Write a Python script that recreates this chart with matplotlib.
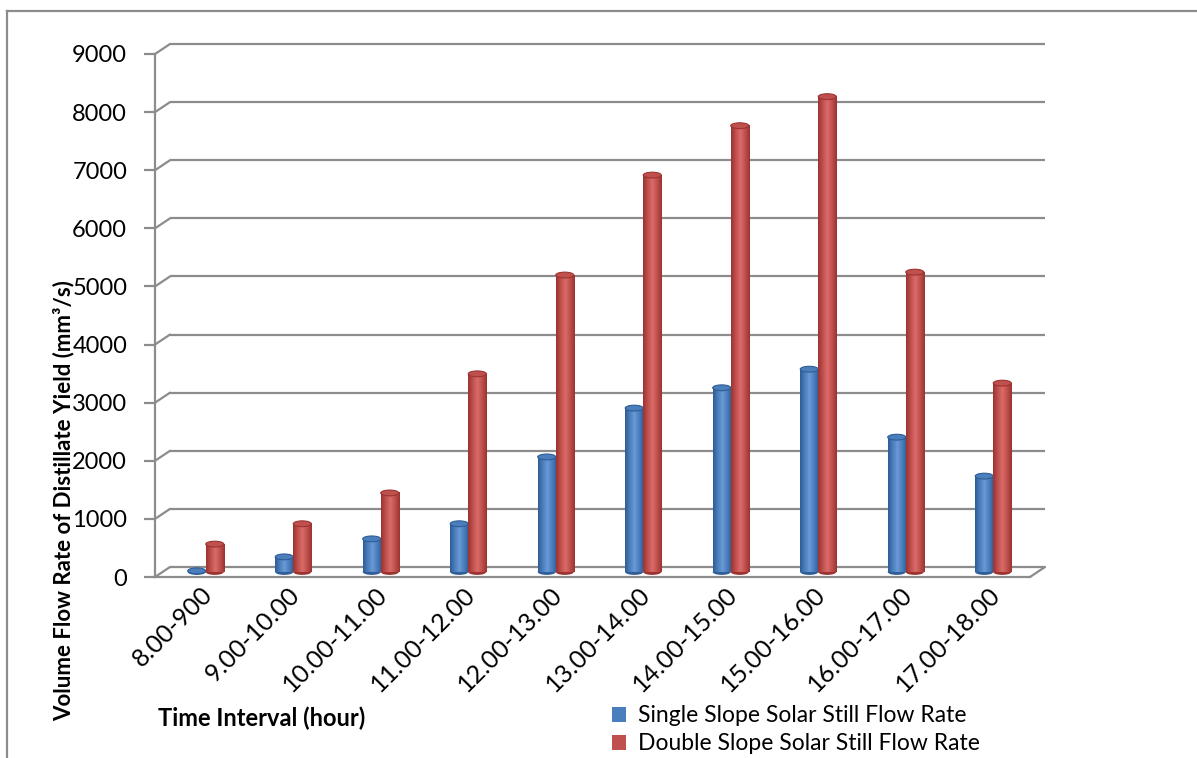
import matplotlib
matplotlib.use("Agg")
import matplotlib.pyplot as plt
import matplotlib.transforms as mtransforms
from matplotlib.patches import Ellipse, Patch
from matplotlib.lines import Line2D
import numpy as np

# Data
intervals = ["8.00-900", "9.00-10.00", "10.00-11.00", "11.00-12.00", "12.00-13.00",
             "13.00-14.00", "14.00-15.00", "15.00-16.00", "16.00-17.00", "17.00-18.00"]
single_slope = [20, 260, 570, 830, 1980, 2820, 3170, 3490, 2320, 1650]
double_slope = [480, 830, 1360, 3410, 5110, 6830, 7680, 8180, 5160, 3250]
series_names = ["Single Slope Solar Still Flow Rate", "Double Slope Solar Still Flow Rate"]
y_ticks = list(range(0, 10000, 1000))

plt.rcParams['font.family'] = ['Lato', 'DejaVu Sans']
GRAY = "#8c8c8c"
W, H = 1197, 758

fig = plt.figure(figsize=(W / 100, H / 100), dpi=100)
ax = fig.add_axes([155 / W, 1 - 577 / H, 875 / W, 523 / H])
ax.set_xlim(0, len(intervals))
ax.set_ylim(0, 9000)

# fake 3D: back wall and mid-depth offsets
back = ax.transData + mtransforms.ScaledTranslation(0.15, 0.10, fig.dpi_scale_trans)
mid = ax.transData + mtransforms.ScaledTranslation(0.07, 0.05, fig.dpi_scale_trans)

for s in ["top", "right"]:
    ax.spines[s].set_visible(False)
for s in ["left", "bottom"]:
    ax.spines[s].set_color(GRAY)
    ax.spines[s].set_linewidth(1.6)

# back wall gridlines + connectors
ax.hlines(y_ticks, 0, len(intervals), colors=GRAY, lw=1.6, transform=back, clip_on=False, zorder=1)
for v in y_ticks:
    ax.annotate("", xy=(0, v), xycoords=back, xytext=(0, v), textcoords="data",
                arrowprops=dict(arrowstyle="-", color=GRAY, lw=1.6, shrinkA=0, shrinkB=0))
ax.annotate("", xy=(len(intervals), 0), xycoords=back, xytext=(len(intervals), 0), textcoords="data",
            arrowprops=dict(arrowstyle="-", color=GRAY, lw=1.6, shrinkA=0, shrinkB=0))


def cylinder(xc, val, width, dark, base, light, z):
    stops = np.array([matplotlib.colors.to_rgb(c) for c in [dark, base, light, base, dark]])
    t = np.linspace(0, 1, 40)
    pos = np.linspace(0, 1, len(stops))
    grad = np.stack([np.interp(t, pos, stops[:, k]) for k in range(3)], axis=-1)[None, :, :]
    eh = 100
    ax.add_patch(Ellipse((xc, 0), width, eh, facecolor=dark, edgecolor="none",
                         transform=mid, zorder=z, clip_on=False))
    ax.imshow(grad, extent=(xc - width / 2, xc + width / 2, 0, val), aspect="auto",
              transform=mid, interpolation="bilinear", zorder=z + 0.1, clip_on=False)
    ax.add_patch(Ellipse((xc, val), width, eh, facecolor=base, edgecolor=dark, lw=0.8,
                         transform=mid, zorder=z + 0.2, clip_on=False))


bw = 0.206
for i in range(len(intervals)):
    c = i + 0.5
    cylinder(c - bw / 2, single_slope[i], bw, "#2f5d95", "#4a7ebd", "#6a9ad6", 3 + i)
    cylinder(c + bw / 2, double_slope[i], bw, "#9b3431", "#c0504d", "#d96b68", 3.5 + i)

ax.set_xlim(0, len(intervals))
ax.set_ylim(0, 9000)

ax.set_yticks(y_ticks)
ax.tick_params(axis="y", colors=GRAY, length=8, width=1.6, pad=12, labelsize=17, labelcolor="black")
ax.set_xticks([i + 0.5 for i in range(len(intervals))])
ax.set_xticklabels(intervals, rotation=45, ha="right", va="center", rotation_mode="anchor", fontsize=18)
ax.tick_params(axis="x", length=0, pad=10)
shift = mtransforms.ScaledTranslation(0.10, 0.0, fig.dpi_scale_trans)
for lbl in ax.get_xticklabels():
    lbl.set_transform(lbl.get_transform() + shift)

fig.text(64 / W, 1 - 501 / H, "Volume Flow Rate of Distillate Yield (mm\u00b3/s)", rotation=90,
         ha="center", va="center", fontsize=16, fontweight="bold")
fig.text(158 / W, 1 - 718 / H, "Time Interval (hour)", ha="left", va="center",
         fontsize=17, fontweight="bold")

handles = [Patch(facecolor="#4a7ebd"), Patch(facecolor="#c0504d")]
fig.legend(handles, series_names, loc="upper left", bbox_to_anchor=(601 / W, 1 - 694 / H),
           frameon=False, fontsize=16.5, handlelength=0.6, handleheight=0.6,
           handletextpad=0.5, labelspacing=0.3, borderpad=0)

# outer chart border
fig.add_artist(Line2D([7 / W, 1], [1 - 11 / H] * 2, color=GRAY, lw=1.6))
fig.add_artist(Line2D([7 / W] * 2, [0, 1 - 11 / H], color=GRAY, lw=1.6))

fig.savefig("out.png", dpi=100)
